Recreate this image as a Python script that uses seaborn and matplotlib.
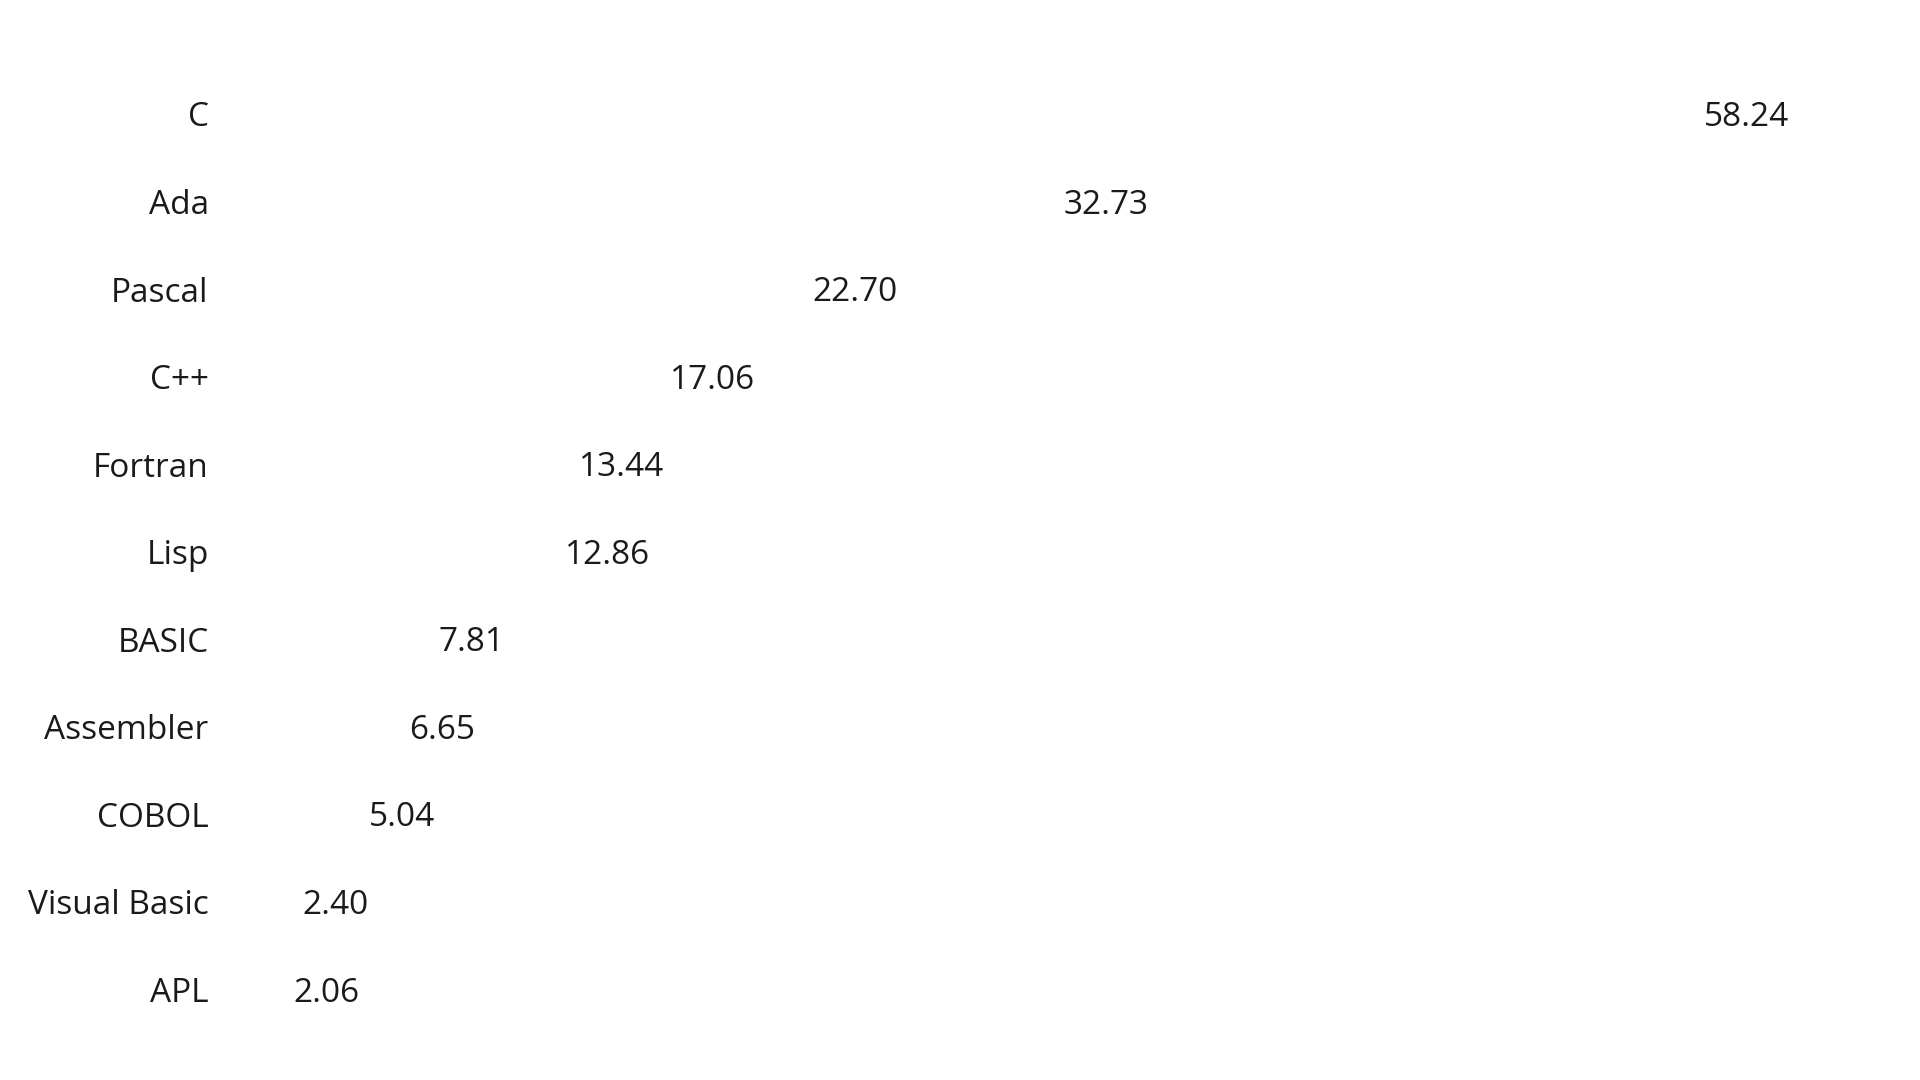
import matplotlib
matplotlib.use("Agg")
import matplotlib.pyplot as plt
import seaborn as sns
import pandas as pd

languages = ["C", "Ada", "Pascal", "C++", "Fortran", "Lisp", "BASIC",
             "Assembler", "COBOL", "Visual Basic", "APL"]
scores = [58.24, 32.73, 22.70, 17.06, 13.44, 12.86, 7.81, 6.65, 5.04, 2.40, 2.06]

sns.set_theme(style="white")
plt.rcParams["font.family"] = ["Open Sans", "DejaVu Sans"]

df = pd.DataFrame({"language": languages, "score": scores})

fig = plt.figure(figsize=(19.2, 10.8), dpi=100)
ax = fig.add_axes([0.113, 0.0435, 0.85, 0.8915])
sns.barplot(data=df, x="score", y="language", color="white", ax=ax,
            orient="h", order=languages)
for c in ax.containers:
    texts = ax.bar_label(c, labels=[f"{v:.2f}" for v in scores], padding=18,
                         fontsize=24, color="#1a1a1a")
    for t in texts:
        t.xyann = (18, -2.7)

ax.set_xlim(0, 65)
ax.set_xlabel("")
ax.set_ylabel("")
ax.set_xticks([])
ax.tick_params(axis="y", labelsize=24, colors="#1a1a1a", length=0, pad=6)
for s in ax.spines.values():
    s.set_visible(False)

fig.savefig("out.png", dpi=100, facecolor="white")
